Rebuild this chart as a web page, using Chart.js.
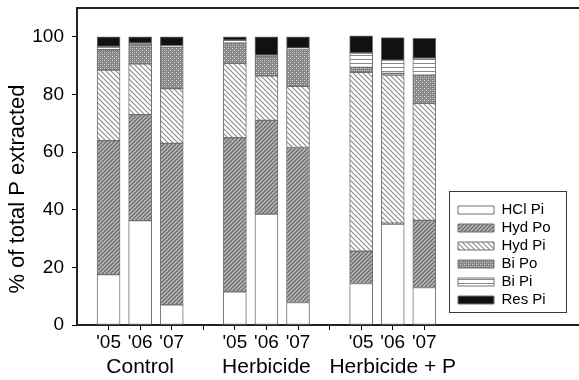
<!DOCTYPE html>
<html>
<head>
<meta charset="utf-8">
<script src="https://cdn.jsdelivr.net/npm/chart.js@4.4.1/dist/chart.umd.min.js"></script>
<style>
  body { margin: 0; background: #fff; }
</style>
</head>
<body>
<canvas id="pChart" width="579" height="380"></canvas>
<script>
// Categories and positions on the x axis (gaps at 4 and 8 between groups)
const groups = ['Control', 'Herbicide', 'Herbicide + P'];
const years = ["'05", "'06", "'07", "'05", "'06", "'07", "'05", "'06", "'07"];
const xPos = [1, 2, 3, 5, 6, 7, 9, 10, 11];
const groupPos = [2, 6, 10];
const yTicks = [0, 20, 40, 60, 80, 100];

// % of total P extracted, per fraction
const hclPi = [17.5, 36.2, 7.0, 11.5, 38.5, 7.8, 14.4, 35.0, 13.0];
const hydPo = [46.5, 36.8, 56.0, 53.5, 32.5, 53.8, 11.2, 0.3, 23.3];
const hydPi = [24.5, 17.6, 19.0, 25.8, 15.5, 21.2, 62.1, 51.4, 40.6];
const biPo = [7.0, 6.9, 14.4, 7.0, 6.8, 12.8, 1.7, 0.6, 9.8];
const biPi = [1.2, 0.3, 0.5, 1.0, 0.3, 0.5, 5.0, 4.6, 5.9];
const resPi = [3.3, 2.2, 3.1, 1.2, 6.4, 3.9, 5.9, 7.8, 6.9];

Chart.defaults.font.family = "Arial, 'Liberation Sans', sans-serif";
Chart.defaults.color = '#000';

// hatch fills
function makePattern(size, bg, draw) {
  const c = document.createElement('canvas');
  c.width = size; c.height = size;
  const g = c.getContext('2d');
  g.fillStyle = bg;
  g.fillRect(0, 0, size, size);
  draw(g, size);
  return g.createPattern(c, 'repeat');
}
const ctx = document.getElementById('pChart').getContext('2d');

const hydPoFill = makePattern(4, '#b5b5b5', (g, s) => {
  g.strokeStyle = '#606060'; g.lineWidth = 1.1;
  g.beginPath();
  g.moveTo(0, s); g.lineTo(s, 0);
  g.moveTo(-1, 1); g.lineTo(1, -1);
  g.moveTo(s - 1, s + 1); g.lineTo(s + 1, s - 1);
  g.stroke();
});
const hydPiFill = makePattern(5, '#ffffff', (g, s) => {
  g.strokeStyle = '#8a8a8a'; g.lineWidth = 1.1;
  g.beginPath();
  g.moveTo(0, 0); g.lineTo(s, s);
  g.moveTo(-1, s - 1); g.lineTo(1, s + 1);
  g.moveTo(s - 1, -1); g.lineTo(s + 1, 1);
  g.stroke();
});
const biPoFill = makePattern(4, '#858585', (g) => {
  g.fillStyle = '#dcdcdc';
  g.fillRect(0, 0, 1, 1);
  g.fillRect(2, 2, 1, 1);
  g.fillStyle = '#ababab';
  g.fillRect(2, 0, 1, 1);
  g.fillRect(0, 2, 1, 1);
});
const biPiFill = makePattern(4, '#ffffff', (g) => {
  g.fillStyle = '#8a8a8a';
  g.fillRect(0, 3, 4, 1);
});

function series(label, values, fill) {
  return {
    label: label,
    data: values.map((v, i) => ({ x: xPos[i], y: v })),
    backgroundColor: fill,
    borderColor: '#707070',
    borderWidth: 1,
    borderSkipped: false,
    barThickness: 23
  };
}

// no extra padding from tick labels
function noPad(axis) {
  axis.paddingTop = 0; axis.paddingBottom = 0;
  axis.paddingLeft = 0; axis.paddingRight = 0;
}

// frame for the legend and the y title
const extras = {
  id: 'extras',
  afterLayout(chart) {
    const lg = chart.legend;
    lg.left = 455; lg.right = 567;
    lg.top = 199.5; lg.bottom = 313;
    lg.width = lg.right - lg.left;
    lg.height = lg.bottom - lg.top;
  },
  afterDraw(chart) {
    const c = chart.ctx;
    c.save();
    c.strokeStyle = '#3a3a3a';
    c.lineWidth = 1;
    c.strokeRect(449.5, 191.5, 117, 121);
    c.translate(18, 189);
    c.rotate(-Math.PI / 2);
    c.font = "22px Arial, 'Liberation Sans', sans-serif";
    c.fillStyle = '#000';
    c.textAlign = 'center';
    c.textBaseline = 'middle';
    c.fillText('% of total P extracted', 0, 0);
    c.restore();
  }
};

new Chart(ctx, {
  type: 'bar',
  data: {
    datasets: [
      series('HCl Pi', hclPi, '#ffffff'),
      series('Hyd Po', hydPo, hydPoFill),
      series('Hyd Pi', hydPi, hydPiFill),
      series('Bi Po', biPo, biPoFill),
      series('Bi Pi', biPi, biPiFill),
      series('Res Pi', resPi, '#111111')
    ]
  },
  options: {
    responsive: false,
    animation: false,
    layout: { padding: 0, autoPadding: false },
    plugins: {
      tooltip: { enabled: false },
      legend: {
        position: 'chartArea',
        align: 'start',
        labels: {
          boxWidth: 36,
          boxHeight: 8,
          padding: 3,
          font: { size: 15 },
          color: '#000'
        }
      }
    },
    scales: {
      x: {
        type: 'linear',
        stacked: true,
        offset: false,
        min: 0,
        max: 15.9,
        afterBuildTicks: axis => {
          axis.ticks = [1, 2, 3, 4, 5, 6, 7, 8, 9, 10, 11].map(v => ({ value: v }));
        },
        afterFit: axis => { axis.height = 25; noPad(axis); },
        ticks: {
          autoSkip: false,
          maxRotation: 0,
          padding: 1,
          font: { size: 19 },
          callback: v => {
            const i = xPos.indexOf(v);
            return i >= 0 ? years[i] : '';
          }
        },
        grid: { offset: false, drawOnChartArea: false, tickLength: 5, color: '#000', lineWidth: 1 },
        border: { color: '#222', width: 2 }
      },
      xGroup: {
        type: 'linear',
        position: 'bottom',
        weight: 1,
        offset: false,
        min: 0,
        max: 15.9,
        afterBuildTicks: axis => {
          axis.ticks = groupPos.map(v => ({ value: v }));
        },
        afterFit: axis => { axis.height = 30; noPad(axis); },
        ticks: {
          autoSkip: false,
          maxRotation: 0,
          padding: 5,
          font: { size: 21 },
          callback: v => groups[groupPos.indexOf(v)]
        },
        grid: { display: false, drawTicks: false, offset: false },
        border: { display: false }
      },
      xTop: {
        type: 'linear',
        position: 'top',
        offset: false,
        min: 0,
        max: 1,
        afterFit: axis => { axis.height = 8; noPad(axis); },
        ticks: { display: false },
        grid: { display: false, drawTicks: false, offset: false },
        border: { color: '#222', width: 2 }
      },
      y: {
        stacked: true,
        min: 0,
        max: 110,
        afterBuildTicks: axis => {
          axis.ticks = yTicks.map(v => ({ value: v }));
        },
        afterFit: axis => { axis.width = 77; noPad(axis); },
        ticks: { padding: 8, font: { size: 19 } },
        grid: { drawOnChartArea: false, tickLength: 5, color: '#000', lineWidth: 1 },
        border: { color: '#222', width: 2 }
      }
    }
  },
  plugins: [extras]
});
</script>
</body>
</html>
